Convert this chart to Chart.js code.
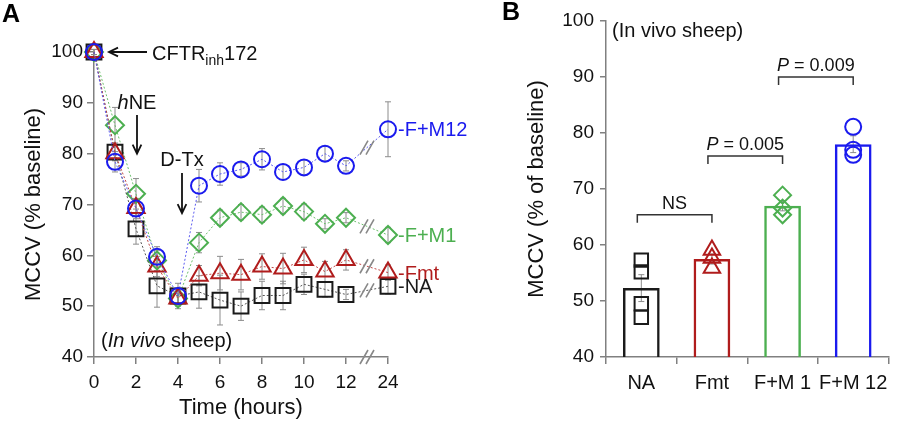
<!DOCTYPE html>
<html>
<head>
<meta charset="utf-8">
<script src="https://cdn.jsdelivr.net/npm/chart.js@4.4.1/dist/chart.umd.min.js"></script>
<style>
  html, body { margin: 0; padding: 0; background: #fff; }
  #wrap { position: relative; width: 900px; height: 423px; }
  #wrap canvas { position: absolute; left: 0; top: 0; }
</style>
</head>
<body>
<div id="wrap">
  <canvas id="chartA" width="900" height="423"></canvas>
  <canvas id="chartB" width="900" height="423"></canvas>
</div>
<script>
// panel A: time course
const hours = [0, 1, 2, 3, 4, 5, 6, 7, 8, 9, 10, 11, 12, 24];
const naTime = [100, 80.3, 65.2, 54, 52, 52.8, 51.2, 50, 52.1, 52.1, 54.3, 53.3, 52.3, 53.9];
const naTimeErr = [0.5, 1.5, 3, 4.2, 2.5, 3.2, 4.9, 2.8, 2.8, 2.8, 2, 1.5, 1, 1.5];
const fmtTime = [100, 80.1, 69.3, 57.8, 51.5, 56, 56.5, 56.2, 57.8, 57.4, 59.1, 56.8, 59.1, 56.6];
const fmtTimeErr = [0.5, 1.5, 1.5, 2, 1, 2, 3.3, 3, 2.5, 3, 2.5, 2, 2, 1.5];
const fm1Time = [100, 85.6, 72.1, 59, 51.5, 62.5, 67.4, 68.5, 68, 69.7, 68.6, 66.2, 67.4, 64];
const fm1TimeErr = [0.5, 3.5, 3, 2, 1.5, 2, 1.5, 1.5, 1.5, 1.5, 1.5, 1, 1, 1.5];
const fm12Time = [100, 78.4, 69.2, 59.7, 52, 73.7, 76, 76.9, 78.9, 76.4, 77.3, 80, 77.6, 84.8];
const fm12TimeErr = [0.5, 2, 2, 2, 1.5, 3.2, 2.2, 1.3, 2.1, 1.5, 1.5, 1.5, 1, 5.4];
const timeTicks = [0, 2, 4, 6, 8, 10, 12, 24];

// panel B: single time point
const groups = ['NA', 'Fmt', 'F+M 1', 'F+M 12'];
const groupMeans = [52.3, 57.5, 67, 78];
const groupSem = [2.4, 0.9, 0.9, 1.5];
const naPts = [57.3, 55.2, 49.5, 47.1];
const fmtPts = [59.1, 57.7, 55.9];
const fm1Pts = [68.9, 66.6, 65.4];
const fm12Pts = [81.1, 77, 76.1];
const brackets = [
  { from: 0, to: 1, y: 65.4, text: 'NS' },
  { from: 1, to: 2, y: 75.9, text: 'P = 0.005' },
  { from: 2, to: 3, y: 90, text: 'P = 0.009' }
];

const family = '"Liberation Sans", Arial, Helvetica, sans-serif';
const BLACK = '#1a1a1a', RED = '#b01c1c', GREEN = '#4caf50', BLUE = '#1a1aee';

// 24 h is drawn two steps after 12 h (broken axis)
const axisPos = h => (h > 12 ? 14 : h);

function arrow(ctx, x1, y1, x2, y2) {
  const a = Math.atan2(y2 - y1, x2 - x1), h = 10;
  ctx.beginPath();
  ctx.moveTo(x1, y1);
  ctx.lineTo(x2, y2);
  ctx.moveTo(x2 - h * Math.cos(a - 0.45), y2 - h * Math.sin(a - 0.45));
  ctx.lineTo(x2, y2);
  ctx.lineTo(x2 - h * Math.cos(a + 0.45), y2 - h * Math.sin(a + 0.45));
  ctx.stroke();
}

// parts: [text, fontStyle, size, baselineShift]
function richText(ctx, x, yMid, parts, align, color) {
  let total = 0;
  parts.forEach(p => {
    ctx.font = `${p[1] || ''} ${p[2]}px ${family}`;
    total += ctx.measureText(p[0]).width;
  });
  let cx = align === 'center' ? x - total / 2 : x;
  ctx.textAlign = 'left';
  ctx.textBaseline = 'alphabetic';
  ctx.fillStyle = color || '#111';
  parts.forEach(p => {
    ctx.font = `${p[1] || ''} ${p[2]}px ${family}`;
    ctx.fillText(p[0], cx, yMid + 7 + (p[3] || 0));
    cx += ctx.measureText(p[0]).width;
  });
}

function breakMark(ctx, x, y) {
  ctx.beginPath();
  [-3, 3].forEach(d => {
    ctx.moveTo(x + d - 4, y + 7);
    ctx.lineTo(x + d + 4, y - 7);
  });
  ctx.stroke();
}

const seriesA = [
  { name: '-F+M12', values: fm12Time, err: fm12TimeErr, color: BLUE, line: '#5c5cf0', style: 'circle', r: 8 },
  { name: '-Fmt', values: fmtTime, err: fmtTimeErr, color: RED, line: '#c04848', style: 'triangle', r: 10 },
  { name: '-NA', values: naTime, err: naTimeErr, color: BLACK, line: '#555', style: 'rect', r: 10.5 },
  { name: '-F+M1', values: fm1Time, err: fm1TimeErr, color: GREEN, line: '#6cbf6c', style: 'rectRot', r: 9 }
];

const errorBarsA = {
  id: 'errorBarsA',
  beforeDatasetsDraw(chart) {
    const { ctx, scales: { x, y } } = chart;
    ctx.save();
    ctx.strokeStyle = '#8c8c8c';
    ctx.lineWidth = 1;
    seriesA.forEach(s => {
      s.values.forEach((v, i) => {
        const e = s.err[i];
        const px = x.getPixelForValue(axisPos(hours[i]));
        const top = y.getPixelForValue(v + e), bot = y.getPixelForValue(v - e);
        ctx.beginPath();
        ctx.moveTo(px, top); ctx.lineTo(px, bot);
        ctx.moveTo(px - 3, top); ctx.lineTo(px + 3, top);
        ctx.moveTo(px - 3, bot); ctx.lineTo(px + 3, bot);
        ctx.stroke();
      });
    });
    ctx.restore();
  }
};

const notesA = {
  id: 'notesA',
  afterDraw(chart) {
    const { ctx, scales: { x, y } } = chart;
    ctx.save();
    // panel letter
    ctx.fillStyle = '#000';
    ctx.font = `bold 25px ${family}`;
    ctx.textAlign = 'left';
    ctx.textBaseline = 'top';
    ctx.fillText('A', 2, 3);

    ctx.strokeStyle = '#111';
    ctx.lineWidth = 1.8;
    const x0 = x.getPixelForValue(0);
    const y100 = y.getPixelForValue(100);
    arrow(ctx, x0 + 53, y100, x0 + 15, y100);
    richText(ctx, x0 + 58, y100 + 1, [['CFTR', '', 20], ['inh', '', 14, 5], ['172', '', 20]]);

    const x2 = x.getPixelForValue(2) + 1;
    richText(ctx, x2, y.getPixelForValue(90.2), [['h', 'italic', 20], ['NE', '', 20]], 'center');
    arrow(ctx, x2, y.getPixelForValue(87.6), x2, y.getPixelForValue(80));

    const x4 = x.getPixelForValue(4) + 4;
    richText(ctx, x4, y.getPixelForValue(79), [['D-Tx', '', 20]], 'center');
    arrow(ctx, x4, y.getPixelForValue(76.2), x4, y.getPixelForValue(68.3));

    richText(ctx, x0 + 7, y.getPixelForValue(43.4), [['(', '', 20], ['In vivo', 'italic', 20], [' sheep)', '', 20]]);

    // series labels at the 24 h end
    const xEnd = x.getPixelForValue(14);
    seriesA.forEach(s => {
      richText(ctx, xEnd + 10, y.getPixelForValue(s.values[s.values.length - 1]), [[s.name, '', 20]], 'left', s.color);
    });

    // axis breaks between 12 and 24 h
    ctx.strokeStyle = '#888';
    ctx.lineWidth = 1.6;
    const xb = x.getPixelForValue(13);
    breakMark(ctx, xb, y.getPixelForValue(40));
    seriesA.forEach(s => {
      const n = s.values.length;
      breakMark(ctx, xb, y.getPixelForValue((s.values[n - 2] + s.values[n - 1]) / 2));
    });
    ctx.restore();
  }
};

new Chart(document.getElementById('chartA'), {
  type: 'line',
  data: {
    datasets: seriesA.map(s => ({
      data: s.values.map((v, i) => ({ x: axisPos(hours[i]), y: v })),
      borderColor: s.line,
      borderWidth: 1,
      borderDash: [2, 2],
      pointStyle: s.style,
      pointRadius: s.r,
      pointBorderColor: s.color,
      pointBorderWidth: 2,
      pointBackgroundColor: 'rgba(0,0,0,0)',
      clip: false,
      tension: 0
    }))
  },
  options: {
    responsive: false,
    animation: false,
    events: [],
    layout: { padding: { left: 0, top: 52, right: 512, bottom: 0 } },
    plugins: { legend: { display: false }, tooltip: { enabled: false } },
    scales: {
      x: {
        type: 'linear',
        min: 0,
        max: 14,
        afterFit: s => { s.height = 66; },
        afterBuildTicks: s => { s.ticks = timeTicks.map(h => ({ value: axisPos(h) })); },
        ticks: {
          callback: v => (v === 14 ? '24' : String(v)),
          font: { size: 19, family },
          color: '#111',
          padding: 7,
          maxRotation: 0,
          autoSkip: false
        },
        grid: { drawOnChartArea: false, tickLength: 7, color: '#808080', lineWidth: 1.5 },
        border: { color: '#808080', width: 1.5 },
        title: { display: true, text: 'Time (hours)', font: { size: 22, family }, color: '#111', padding: { top: 0, bottom: 2 } }
      },
      y: {
        min: 40,
        max: 100,
        afterFit: s => { s.width = 94; },
        ticks: { stepSize: 10, font: { size: 19, family }, color: '#111', padding: 4 },
        grid: { drawOnChartArea: false, tickLength: 7, color: '#808080', lineWidth: 1.5 },
        border: { color: '#808080', width: 1.5 },
        title: { display: true, text: 'MCCV (% baseline)', font: { size: 22, family }, color: '#111', padding: { top: 21, bottom: 0 } }
      }
    }
  },
  plugins: [errorBarsA, notesA]
});

// ---------- panel B ----------
const groupColors = [BLACK, RED, GREEN, BLUE];
const pointSets = [
  { pts: naPts, style: 'rect', r: 9.5 },
  { pts: fmtPts, style: 'triangle', r: 9.5 },
  { pts: fm1Pts, style: 'rectRot', r: 8.5 },
  { pts: fm12Pts, style: 'circle', r: 8 }
];

const notesB = {
  id: 'notesB',
  beforeDatasetsDraw(chart) {
    const { ctx, scales: { x, y } } = chart;
    ctx.save();
    ctx.strokeStyle = '#8c8c8c';
    ctx.lineWidth = 1;
    groupMeans.forEach((m, i) => {
      const px = x.getPixelForValue(i);
      const top = y.getPixelForValue(m + groupSem[i]), bot = y.getPixelForValue(m - groupSem[i]);
      ctx.beginPath();
      ctx.moveTo(px, top); ctx.lineTo(px, bot);
      ctx.moveTo(px - 3, top); ctx.lineTo(px + 3, top);
      ctx.moveTo(px - 3, bot); ctx.lineTo(px + 3, bot);
      ctx.stroke();
    });
    ctx.restore();
  },
  afterDraw(chart) {
    const { ctx, scales: { x, y } } = chart;
    ctx.save();
    ctx.fillStyle = '#000';
    ctx.font = `bold 25px ${family}`;
    ctx.textAlign = 'left';
    ctx.textBaseline = 'top';
    ctx.fillText('B', 502, 1);

    richText(ctx, x.left + 6, y.getPixelForValue(98.4), [['(In vivo sheep)', '', 20]]);

    ctx.strokeStyle = '#333';
    ctx.lineWidth = 1.5;
    brackets.forEach(b => {
      const xa = x.getPixelForValue(b.from) - 4, xb = x.getPixelForValue(b.to);
      const yb = y.getPixelForValue(b.y);
      ctx.beginPath();
      ctx.moveTo(xa, yb + 8); ctx.lineTo(xa, yb); ctx.lineTo(xb, yb); ctx.lineTo(xb, yb + 8);
      ctx.stroke();
      const parts = b.text.startsWith('P') ? [['P', 'italic', 18], [b.text.slice(1), '', 18]] : [[b.text, '', 18]];
      richText(ctx, (xa + xb) / 2, yb - 13, parts, 'center');
    });
    ctx.restore();
  }
};

new Chart(document.getElementById('chartB'), {
  type: 'bar',
  data: {
    labels: groups,
    datasets: [
      {
        type: 'bar',
        data: groupMeans,
        backgroundColor: 'rgba(255,255,255,0)',
        borderColor: groupColors,
        borderWidth: 2.5,
        borderSkipped: 'bottom',
        barPercentage: 0.52,
        categoryPercentage: 1,
        order: 2
      },
      ...pointSets.map((p, i) => ({
        type: 'line',
        data: p.pts.map(v => ({ x: groups[i], y: v })),
        showLine: false,
        pointStyle: p.style,
        pointRadius: p.r,
        pointBorderColor: groupColors[i],
        pointBorderWidth: 2,
        pointBackgroundColor: 'rgba(0,0,0,0)',
        clip: false,
        order: 1
      }))
    ]
  },
  options: {
    responsive: false,
    animation: false,
    events: [],
    layout: { padding: { left: 520, top: 21, right: 1, bottom: 0 } },
    plugins: { legend: { display: false }, tooltip: { enabled: false } },
    scales: {
      x: {
        afterFit: s => { s.height = 66; },
        ticks: { font: { size: 20, family }, color: '#111', padding: 7, maxRotation: 0, autoSkip: false },
        grid: { offset: true, drawOnChartArea: false, tickLength: 7, color: '#808080', lineWidth: 1.5 },
        border: { color: '#808080', width: 1.5 }
      },
      y: {
        min: 40,
        max: 100,
        afterFit: s => { s.width = 86; },
        ticks: { stepSize: 10, font: { size: 19, family }, color: '#111', padding: 6 },
        grid: { drawOnChartArea: false, tickLength: 6, color: '#808080', lineWidth: 1.5 },
        border: { color: '#808080', width: 1.5 },
        title: { display: true, text: 'MCCV (% of baseline)', font: { size: 22, family }, color: '#111', padding: { top: 4, bottom: 0 } }
      }
    }
  },
  plugins: [notesB]
});
</script>
</body>
</html>
